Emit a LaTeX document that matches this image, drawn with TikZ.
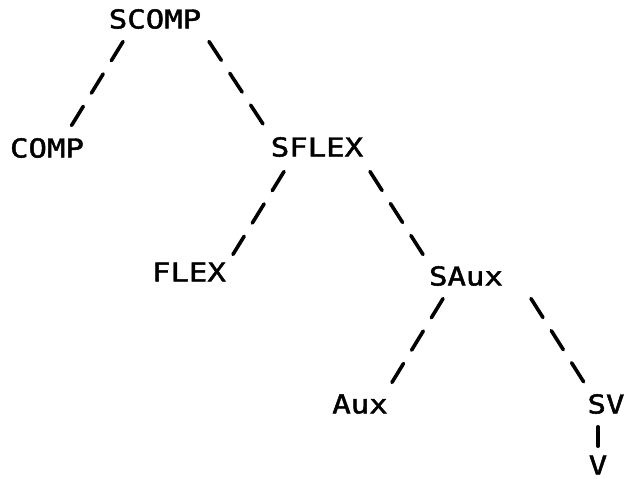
\documentclass[tikz,border=0pt]{standalone}
\usepackage{fontspec}
\newfontfamily\treefont[FakeStretch=1.18,FakeBold=1.8]{DejaVu Sans Mono}
\begin{document}
\begin{tikzpicture}[x=1pt,y=-1pt,
  lab/.style={inner sep=0pt,outer sep=0pt,font=\treefont\fontsize{26}{26}\selectfont},
  edge/.style={line width=3.6pt,line cap=round,dash pattern=on 22.5pt off 15.5pt,shorten <=1.8pt,shorten >=1.8pt},
  stem/.style={line width=3.6pt,line cap=round,shorten <=1.8pt,shorten >=1.8pt}]
\useasboundingbox (0,0) rectangle (627,479);
\node[lab] (scomp) at (155,19) {SCOMP};
\node[lab] (comp)  at (47,148) {COMP};
\node[lab] (sflex) at (317,147) {SFLEX};
\node[lab] (flex)  at (189,272) {FLEX};
\node[lab] (saux)  at (466,276) {SAux};
\node[lab] (aux)   at (360,404) {Aux};
\node[lab] (sv)    at (606,404) {SV};
\node[lab] (v)     at (598,465) {V};
\draw[edge] ([xshift=-31pt,yshift=-21pt]scomp.center) -- ([xshift=23pt,yshift=20pt]comp.center);
\draw[edge] ([xshift=53pt,yshift=-21pt]scomp.center) -- ([xshift=-52pt,yshift=20pt]sflex.center);
\draw[edge] ([xshift=-32pt,yshift=-23pt]sflex.center) -- ([xshift=43pt,yshift=16pt]flex.center);
\draw[edge] ([xshift=52pt,yshift=-23pt]sflex.center) -- ([xshift=-42pt,yshift=20pt]saux.center);
\draw[edge] ([xshift=-22pt,yshift=-21pt]saux.center) -- ([xshift=31pt,yshift=20pt]aux.center);
\draw[edge] ([xshift=64pt,yshift=-21pt]saux.center) -- ([xshift=-21pt,yshift=20pt]sv.center);
\draw[stem] ([xshift=-8pt,yshift=-21pt]sv.center) -- ([yshift=17pt]v.center);
\end{tikzpicture}
\end{document}
